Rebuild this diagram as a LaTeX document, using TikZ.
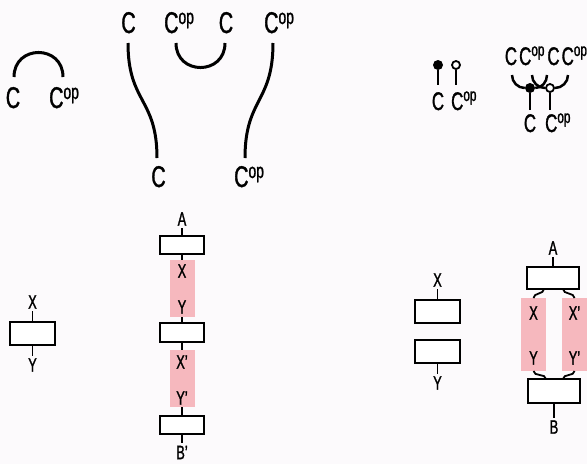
\documentclass[tikz,border=0pt]{standalone}
\usepackage{fontspec}
\setmainfont[FakeStretch=0.66,FakeBold=1.2]{Liberation Sans}
\newcommand{\opsup}{\textsuperscript{op}}
\definecolor{bgc}{RGB}{252,250,252}
\definecolor{pinkc}{RGB}{246,184,190}
\pgfdeclarelayer{bg}
\pgfdeclarelayer{wires}
\pgfdeclarelayer{pinks}
\pgfsetlayers{bg,wires,pinks,main}
\tikzset{
  big/.style={font=\fontsize{30}{32}\selectfont, inner sep=0pt},
  mid/.style={font=\fontsize{25.5}{27}\selectfont, inner sep=0pt},
  small/.style={font=\fontsize{19.5}{21}\selectfont, inner sep=0pt, outer sep=2.5pt},
  wire/.style={line width=3pt},
  wiretwo/.style={line width=2.5pt},
  stem/.style={line width=1.8pt},
  box/.style 2 args={draw, line width=2pt, fill=white, inner sep=0pt, minimum width=#1, minimum height=#2},
  dotf/.style={circle, fill=black, inner sep=0pt, minimum size=10pt},
  doto/.style={circle, draw, fill=white, line width=1.8pt, inner sep=0pt, minimum size=8pt},
  pinkfill/.style={fill=pinkc}
}
\begin{document}
\begin{tikzpicture}[x=1pt,y=1pt]
\begin{pgfonlayer}{bg}
\fill[bgc] (0,0) rectangle (587,-464);
\end{pgfonlayer}
\useasboundingbox (0,0) rectangle (587,-464);

% ---------- top left: cup ----------
\node[big, anchor=base] (tlC) at (13,-108) {C};
\node[big, anchor=base west] (tlCop) at (49,-108) {C\opsup};
\coordinate (tla) at (14,-77);
\coordinate (tlb) at (63,-77);
\draw[wire] (tla) .. controls +(0,32.7) and +(0,32.7) .. (tlb);

% ---------- top middle: snake ----------
\node[big, anchor=base] (m1) at (128.5,-33) {C};
\node[big, anchor=base west] (m2) at (164,-33) {C\opsup};
\node[big, anchor=base] (m3) at (226,-33) {C};
\node[big, anchor=base west] (m4) at (264,-33) {C\opsup};
\node[big, anchor=base] (m5) at (158.5,-187) {C};
\node[big, anchor=base west] (m6) at (234,-187) {C\opsup};
\coordinate (w1a) at (128,-43);
\coordinate (w1b) at (157,-158);
\coordinate (c1) at (176,-43);
\coordinate (c2) at (225,-43);
\coordinate (w2a) at (273,-43);
\coordinate (w2b) at (245,-158);
\draw[wire] (w1a) .. controls +(0,-60) and +(0,60) .. (w1b);
\draw[wire] (c1) .. controls +(0,-32.7) and +(0,-32.7) .. (c2);
\draw[wire] (w2a) .. controls +(0,-60) and +(0,60) .. (w2b);

% ---------- top right: units ----------
\node[dotf] (fd) at (438,-65) {};
\node[doto] (od) at (456,-65) {};
\coordinate (fe) at (438,-85);
\coordinate (oe) at (456,-85);
\draw[wiretwo] (fd) -- (fe);
\draw[wiretwo] (od) -- (oe);
\node[mid, anchor=base] (u1) at (438,-110) {C};
\node[mid, anchor=base west] (u2) at (451,-110) {C\opsup};

% ---------- top right: multiplications ----------
\node[mid, anchor=base] (p1) at (511,-65) {C};
\node[mid, anchor=base west] (p2) at (519,-65) {C\opsup};
\node[mid, anchor=base] (p3) at (553.5,-65) {C};
\node[mid, anchor=base west] (p4) at (561.5,-65) {C\opsup};
\coordinate (t1) at (512,-75);
\coordinate (t2) at (532,-75);
\coordinate (t3) at (547,-75);
\coordinate (t4) at (568,-75);
\node[dotf] (fd2) at (530,-88) {};
\node[doto] (od2) at (550,-88) {};
\draw[wiretwo] (t1) to[out=-90,in=180] (fd2);
\draw[wiretwo] (t3) to[out=-90,in=0] (fd2);
\begin{pgfonlayer}{wires}
\draw[wiretwo] (t2) to[out=-90,in=180] (od2);
\draw[wiretwo] (t4) to[out=-90,in=0] (od2);
\end{pgfonlayer}
\coordinate (fe2) at (530,-110);
\coordinate (oe2) at (550,-110);
\draw[wiretwo] (fd2) -- (fe2);
\draw[wiretwo] (od2) -- (oe2);
\node[mid, anchor=base] (q1) at (530,-132) {C};
\node[mid, anchor=base west] (q2) at (545,-132) {C\opsup};

% ---------- bottom left: single box ----------
\node[small] (lX) at (32.5,-302) {X};
\node[box={45pt}{23pt}] (lB) at (32.5,-333.5) {};
\node[small] (lY) at (32.5,-365) {Y};
\draw[stem] (lX) -- (lB);
\draw[stem] (lB) -- (lY);

% ---------- bottom middle: composite column ----------
\node[small] (mA) at (182,-219) {A};
\node[box={44pt}{18pt}] (mb1) at (182,-245) {};
\node[small] (mX) at (182,-271) {X};
\node[small] (mY) at (182,-307) {Y};
\node[box={44pt}{19pt}] (mb2) at (182,-332.5) {};
\node[small] (mXp) at (182,-362) {X'};
\node[small] (mYp) at (182,-398) {Y'};
\node[box={44pt}{18pt}] (mb3) at (182,-425) {};
\node[small] (mBp) at (182,-452.5) {B'};
\begin{pgfonlayer}{wires}
\draw[stem] (mA) -- (mb1);
\draw[stem] (mb1) -- (mX);
\draw[stem] (mY) -- (mb2);
\draw[stem] (mb2) -- (mXp);
\draw[stem] (mYp) -- (mb3);
\draw[stem] (mb3) -- (mBp);
\end{pgfonlayer}
\begin{pgfonlayer}{pinks}
\fill[pinkfill] (170,-260) rectangle (195,-317);
\fill[pinkfill] (170,-350) rectangle (195,-407);
\end{pgfonlayer}

% ---------- bottom right: two boxes ----------
\node[small] (rX) at (437.5,-280) {X};
\node[box={45pt}{23pt}] (rb1) at (437.5,-311.5) {};
\node[box={45pt}{23pt}] (rb2) at (437.5,-351.5) {};
\node[small] (rY) at (437.5,-383) {Y};
\draw[stem] (rX) -- (rb1);
\draw[stem] (rb2) -- (rY);

% ---------- bottom far right: parallel ----------
\node[small] (fA) at (553,-248) {A};
\node[box={52pt}{22pt}] (fT) at (553,-278) {};
\node[small] (fX) at (533.5,-313) {X};
\node[small] (fY) at (533.5,-358) {Y};
\node[small] (fXp) at (574.5,-313) {X'};
\node[small] (fYp) at (574.5,-358) {Y'};
\node[box={52pt}{24pt}] (fB) at (554,-391) {};
\node[small] (fBl) at (554,-427) {B};
\coordinate (bt1) at (544,-289);
\coordinate (bt2) at (563,-289);
\coordinate (pt1) at (533.5,-298);
\coordinate (pt2) at (574.5,-298);
\coordinate (pb1) at (533.5,-371);
\coordinate (pb2) at (574.5,-371);
\coordinate (bb1) at (546,-379);
\coordinate (bb2) at (563,-379);
\draw[stem] (fA) -- (fT);
\draw[stem] (fB) -- (fBl);
\draw[stem] (bt1) to[out=-90,in=90] (pt1);
\draw[stem] (bt2) to[out=-90,in=90] (pt2);
\draw[stem] (pb1) to[out=-90,in=90] (bb1);
\draw[stem] (pb2) to[out=-90,in=90] (bb2);
\begin{pgfonlayer}{pinks}
\fill[pinkfill] (521,-298) rectangle (546,-371);
\fill[pinkfill] (562,-298) rectangle (587,-371);
\end{pgfonlayer}
\end{tikzpicture}
\end{document}
